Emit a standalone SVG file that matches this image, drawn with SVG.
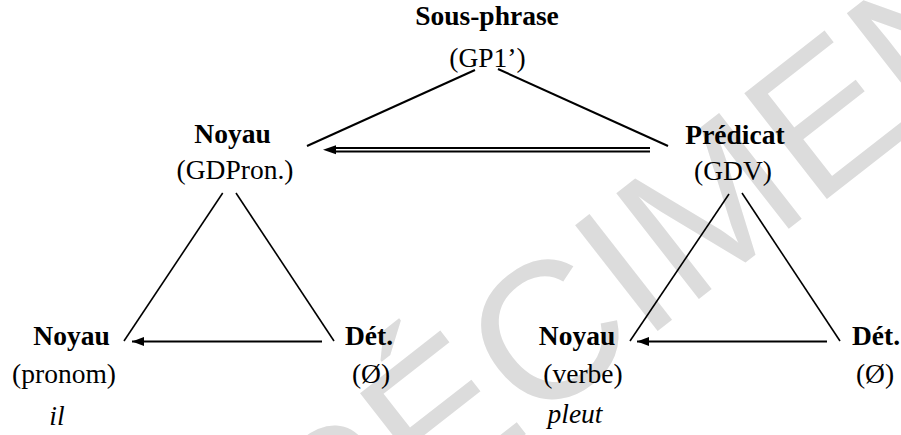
<svg xmlns="http://www.w3.org/2000/svg" width="901" height="435" viewBox="0 0 901 435">
<style>
.b{font-family:"Liberation Serif","Times New Roman",serif;font-weight:bold;font-size:27.5px;fill:#000;text-anchor:middle}
.r{font-family:"Liberation Serif","Times New Roman",serif;font-size:27.5px;fill:#000;text-anchor:middle}
.i{font-family:"Liberation Serif","Times New Roman",serif;font-style:italic;font-size:27.5px;fill:#000;text-anchor:middle}
.e{stroke:#000;stroke-width:1.6;fill:none}
.t{stroke:#000;stroke-width:2;fill:none}
.a{stroke:#000;stroke-width:2;fill:none}
.w{font-family:"Liberation Sans",Arial,sans-serif;font-size:195px;fill:#dcdcdc}
</style>
<defs>
<marker id="ah" markerWidth="12" markerHeight="9" refX="12" refY="4.5" orient="auto" markerUnits="userSpaceOnUse">
<path d="M0,0 L12,4.5 L0,9 Z" fill="#000"/>
</marker>
</defs>
<rect width="901" height="435" fill="#fff"/>
<text class="w" transform="translate(225,669) rotate(-38)">SPÉCIMEN</text>
<g id="connectors">
<line class="t" x1="475" y1="70" x2="307" y2="146"/>
<line class="t" x1="498" y1="69" x2="668" y2="146"/>
<line class="a" x1="650" y1="148" x2="334" y2="148" stroke-width="1.4"/>
<line class="a" x1="650" y1="151.5" x2="334" y2="151.5" stroke-width="1.4"/>
<path d="M323,149.8 L336,145.3 L336,154.3 Z" fill="#000"/>
<line class="e" x1="222.7" y1="193" x2="124" y2="341"/>
<line class="e" x1="236" y1="193" x2="334" y2="341"/>
<line class="a" x1="322" y1="341.5" x2="132" y2="341.5" marker-end="url(#ah)"/>
<line class="e" x1="729" y1="194" x2="630" y2="341"/>
<line class="e" x1="742" y1="193" x2="840" y2="341"/>
<line class="a" x1="827" y1="341.5" x2="637" y2="341.5" marker-end="url(#ah)"/>
</g>
<g id="sous-phrase"><text class="b" x="487" y="25">Sous-phrase</text><text class="r" x="487.5" y="67">(GP1’)</text></g>
<g id="noyau-gdpron"><text class="b" x="232.5" y="143">Noyau</text><text class="r" x="235" y="179">(GDPron.)</text></g>
<g id="predicat"><text class="b" x="735" y="144">Prédicat</text><text class="r" x="733" y="180">(GDV)</text></g>
<g id="noyau-pronom"><text class="b" x="71.5" y="345">Noyau</text><text class="r" x="64" y="383">(pronom)</text><text class="i" x="57" y="425">il</text></g>
<g id="det-left"><text class="b" x="369" y="345">Dét.</text><text class="r" x="371" y="383">(Ø)</text></g>
<g id="noyau-verbe"><text class="b" x="577" y="345">Noyau</text><text class="r" x="583" y="383">(verbe)</text><text class="i" x="575" y="423">pleut</text></g>
<g id="det-right"><text class="b" x="876" y="345">Dét.</text><text class="r" x="875" y="383">(Ø)</text></g>
</svg>
